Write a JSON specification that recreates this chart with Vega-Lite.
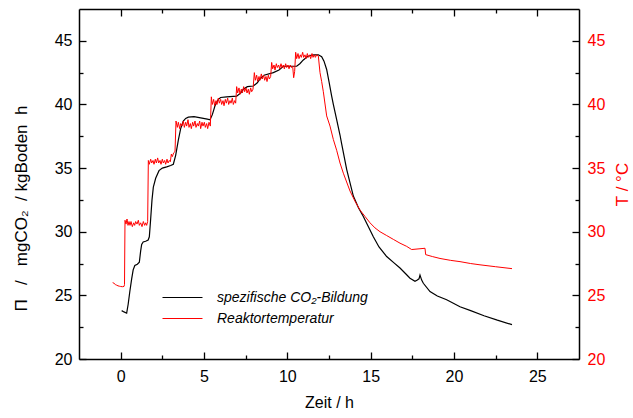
{
  "$schema": "https://vega.github.io/schema/vega-lite/v6.json",
  "autosize": {"type": "none"},
  "padding": {"left": 79, "top": 9, "right": 54, "bottom": 59},
  "width": 500,
  "height": 350,
  "background": "white",
  "config": {
    "view": {"stroke": null},
    "font": "Liberation Sans",
    "axis": {
      "grid": false,
      "domainColor": "black",
      "domainWidth": 1.5,
      "tickColor": "black",
      "tickWidth": 1.3,
      "labelFont": "Liberation Sans",
      "labelFontSize": 16,
      "labelColor": "black",
      "labelFlush": false,
      "labelOverlap": false,
      "titleFont": "Liberation Sans",
      "titleFontSize": 16,
      "titleFontWeight": "normal",
      "titleColor": "black"
    },
    "legend": {
      "labelFont": "Liberation Sans",
      "labelFontSize": 14,
      "labelFontStyle": "italic",
      "labelColor": "black"
    }
  },
  "datasets": {
    "co2": [
      {"t": 0.06, "v": 23.8}, {"t": 0.2, "v": 23.7}, {"t": 0.36, "v": 23.6}, {"t": 0.45, "v": 24.3},
      {"t": 0.55, "v": 25.3}, {"t": 0.66, "v": 26.3}, {"t": 0.75, "v": 27.0}, {"t": 0.85, "v": 27.35},
      {"t": 1.0, "v": 27.45}, {"t": 1.12, "v": 27.6}, {"t": 1.2, "v": 28.5}, {"t": 1.26, "v": 29.0},
      {"t": 1.35, "v": 29.2}, {"t": 1.5, "v": 29.25}, {"t": 1.65, "v": 29.35}, {"t": 1.72, "v": 29.6},
      {"t": 1.8, "v": 31.0}, {"t": 1.88, "v": 32.5}, {"t": 1.96, "v": 33.5}, {"t": 2.1, "v": 34.2},
      {"t": 2.3, "v": 34.8}, {"t": 2.5, "v": 35.0}, {"t": 2.76, "v": 35.1}, {"t": 3.0, "v": 35.2},
      {"t": 3.16, "v": 35.3}, {"t": 3.3, "v": 36.0}, {"t": 3.46, "v": 37.2}, {"t": 3.6, "v": 38.1},
      {"t": 3.76, "v": 38.7}, {"t": 3.9, "v": 38.9}, {"t": 4.06, "v": 39.0}, {"t": 4.4, "v": 39.05},
      {"t": 4.8, "v": 38.95}, {"t": 5.2, "v": 38.85}, {"t": 5.36, "v": 38.8}, {"t": 5.5, "v": 39.2},
      {"t": 5.66, "v": 39.9}, {"t": 5.86, "v": 40.4}, {"t": 6.0, "v": 40.55}, {"t": 6.36, "v": 40.6},
      {"t": 6.96, "v": 40.65}, {"t": 7.2, "v": 40.9}, {"t": 7.36, "v": 41.2}, {"t": 7.6, "v": 41.4},
      {"t": 7.96, "v": 41.45}, {"t": 8.2, "v": 41.7}, {"t": 8.36, "v": 42.0}, {"t": 8.6, "v": 42.3},
      {"t": 9.16, "v": 42.5}, {"t": 9.5, "v": 42.7}, {"t": 9.76, "v": 43.0}, {"t": 10.2, "v": 43.0},
      {"t": 10.56, "v": 43.0}, {"t": 10.75, "v": 43.2}, {"t": 10.96, "v": 43.5}, {"t": 11.2, "v": 43.75},
      {"t": 11.36, "v": 43.85}, {"t": 11.6, "v": 43.9}, {"t": 11.86, "v": 43.9}, {"t": 12.06, "v": 43.75},
      {"t": 12.2, "v": 43.4}, {"t": 12.36, "v": 42.75}, {"t": 12.5, "v": 41.8}, {"t": 12.66, "v": 40.65},
      {"t": 12.76, "v": 40.0}, {"t": 12.96, "v": 38.8}, {"t": 13.16, "v": 37.6}, {"t": 13.26, "v": 36.9},
      {"t": 13.56, "v": 34.9}, {"t": 13.96, "v": 32.8}, {"t": 14.26, "v": 31.9}, {"t": 14.56, "v": 31.2},
      {"t": 15.16, "v": 29.6}, {"t": 15.5, "v": 28.8}, {"t": 15.96, "v": 28.05}, {"t": 16.4, "v": 27.55},
      {"t": 16.76, "v": 27.15}, {"t": 17.1, "v": 26.7}, {"t": 17.36, "v": 26.35}, {"t": 17.66, "v": 26.1},
      {"t": 17.8, "v": 26.2}, {"t": 17.9, "v": 26.3}, {"t": 17.96, "v": 26.6}, {"t": 18.06, "v": 26.2},
      {"t": 18.16, "v": 25.95}, {"t": 18.56, "v": 25.3}, {"t": 19.0, "v": 24.95}, {"t": 19.56, "v": 24.65},
      {"t": 20.36, "v": 24.1}, {"t": 21.0, "v": 23.8}, {"t": 21.8, "v": 23.4}, {"t": 22.6, "v": 23.05},
      {"t": 23.48, "v": 22.7}
    ],
    "temp": [
      {"t": -0.48, "v": 26.0}, {"t": -0.4, "v": 25.95}, {"t": -0.32, "v": 25.85}, {"t": -0.24, "v": 25.8},
      {"t": -0.16, "v": 25.75}, {"t": -0.08, "v": 25.72}, {"t": 0.0, "v": 25.7}, {"t": 0.1, "v": 25.68},
      {"t": 0.2, "v": 25.7}, {"t": 0.23, "v": 25.85},
      {"t": 0.26, "v": 30.9}, {"t": 0.32, "v": 30.6}, {"t": 0.38, "v": 31.0}, {"t": 0.44, "v": 30.5},
      {"t": 0.5, "v": 30.8}, {"t": 0.56, "v": 30.5}, {"t": 0.62, "v": 30.8}, {"t": 0.7, "v": 30.4},
      {"t": 0.78, "v": 30.7}, {"t": 0.84, "v": 30.5}, {"t": 0.9, "v": 30.8}, {"t": 0.98, "v": 30.6},
      {"t": 1.06, "v": 30.9}, {"t": 1.12, "v": 30.5}, {"t": 1.2, "v": 30.7}, {"t": 1.28, "v": 30.4},
      {"t": 1.36, "v": 30.8}, {"t": 1.44, "v": 30.5}, {"t": 1.5, "v": 30.7}, {"t": 1.56, "v": 30.5},
      {"t": 1.62, "v": 30.8},
      {"t": 1.66, "v": 35.6}, {"t": 1.72, "v": 35.3}, {"t": 1.8, "v": 35.7}, {"t": 1.86, "v": 35.4},
      {"t": 1.94, "v": 35.6}, {"t": 2.0, "v": 35.3}, {"t": 2.08, "v": 35.7}, {"t": 2.14, "v": 35.4},
      {"t": 2.22, "v": 35.8}, {"t": 2.28, "v": 35.4}, {"t": 2.36, "v": 35.6}, {"t": 2.42, "v": 35.3},
      {"t": 2.5, "v": 35.7}, {"t": 2.56, "v": 35.4}, {"t": 2.64, "v": 35.6}, {"t": 2.7, "v": 35.3},
      {"t": 2.78, "v": 35.7}, {"t": 2.84, "v": 35.4}, {"t": 2.92, "v": 35.6}, {"t": 2.98, "v": 35.5},
      {"t": 3.04, "v": 36.1}, {"t": 3.1, "v": 35.9}, {"t": 3.18, "v": 36.2}, {"t": 3.26, "v": 36.3},
      {"t": 3.32, "v": 38.7}, {"t": 3.4, "v": 38.2}, {"t": 3.46, "v": 38.6}, {"t": 3.54, "v": 38.1},
      {"t": 3.6, "v": 38.5}, {"t": 3.68, "v": 38.3}, {"t": 3.76, "v": 38.7}, {"t": 3.82, "v": 38.2},
      {"t": 3.9, "v": 38.6}, {"t": 3.96, "v": 38.3}, {"t": 4.04, "v": 38.8}, {"t": 4.1, "v": 38.2},
      {"t": 4.18, "v": 38.5}, {"t": 4.24, "v": 38.1}, {"t": 4.32, "v": 38.6}, {"t": 4.38, "v": 38.3},
      {"t": 4.46, "v": 38.7}, {"t": 4.52, "v": 38.2}, {"t": 4.6, "v": 38.5}, {"t": 4.66, "v": 38.3},
      {"t": 4.74, "v": 38.7}, {"t": 4.8, "v": 38.1}, {"t": 4.88, "v": 38.6}, {"t": 4.94, "v": 38.3},
      {"t": 5.02, "v": 38.6}, {"t": 5.08, "v": 38.2}, {"t": 5.16, "v": 38.5}, {"t": 5.22, "v": 38.1},
      {"t": 5.3, "v": 38.6}, {"t": 5.38, "v": 38.3},
      {"t": 5.44, "v": 40.6}, {"t": 5.5, "v": 40.0}, {"t": 5.58, "v": 40.4}, {"t": 5.64, "v": 39.9},
      {"t": 5.72, "v": 40.3}, {"t": 5.78, "v": 40.0}, {"t": 5.86, "v": 40.5}, {"t": 5.92, "v": 40.1},
      {"t": 6.0, "v": 40.4}, {"t": 6.06, "v": 40.0}, {"t": 6.14, "v": 40.3}, {"t": 6.2, "v": 39.9},
      {"t": 6.28, "v": 40.4}, {"t": 6.34, "v": 40.1}, {"t": 6.42, "v": 40.5}, {"t": 6.48, "v": 40.0},
      {"t": 6.56, "v": 40.3}, {"t": 6.62, "v": 40.1}, {"t": 6.7, "v": 40.5}, {"t": 6.76, "v": 40.0},
      {"t": 6.84, "v": 40.3}, {"t": 6.9, "v": 40.1},
      {"t": 6.96, "v": 41.4}, {"t": 7.02, "v": 40.9}, {"t": 7.1, "v": 41.3}, {"t": 7.16, "v": 40.8},
      {"t": 7.24, "v": 41.2}, {"t": 7.3, "v": 40.9}, {"t": 7.38, "v": 41.4}, {"t": 7.44, "v": 41.0},
      {"t": 7.52, "v": 41.3}, {"t": 7.58, "v": 40.9}, {"t": 7.66, "v": 41.2}, {"t": 7.72, "v": 40.8},
      {"t": 7.8, "v": 41.3}, {"t": 7.86, "v": 41.0}, {"t": 7.94, "v": 41.2},
      {"t": 8.02, "v": 42.5}, {"t": 8.08, "v": 41.9}, {"t": 8.16, "v": 42.3}, {"t": 8.22, "v": 41.8},
      {"t": 8.3, "v": 42.2}, {"t": 8.36, "v": 41.9}, {"t": 8.44, "v": 42.4}, {"t": 8.5, "v": 42.0},
      {"t": 8.58, "v": 42.3}, {"t": 8.64, "v": 41.9}, {"t": 8.72, "v": 42.2}, {"t": 8.78, "v": 41.8},
      {"t": 8.86, "v": 42.3}, {"t": 8.92, "v": 42.0}, {"t": 9.0, "v": 42.2},
      {"t": 9.06, "v": 43.3}, {"t": 9.12, "v": 42.8}, {"t": 9.2, "v": 43.1}, {"t": 9.26, "v": 42.7},
      {"t": 9.34, "v": 43.2}, {"t": 9.4, "v": 42.9}, {"t": 9.48, "v": 43.1}, {"t": 9.54, "v": 42.8},
      {"t": 9.62, "v": 43.2}, {"t": 9.68, "v": 42.9}, {"t": 9.76, "v": 43.1}, {"t": 9.82, "v": 42.8},
      {"t": 9.9, "v": 43.2}, {"t": 9.96, "v": 42.9}, {"t": 10.04, "v": 43.1}, {"t": 10.1, "v": 42.8},
      {"t": 10.18, "v": 43.1}, {"t": 10.24, "v": 42.9}, {"t": 10.32, "v": 43.0}, {"t": 10.38, "v": 42.1},
      {"t": 10.44, "v": 42.6},
      {"t": 10.5, "v": 44.1}, {"t": 10.56, "v": 43.6}, {"t": 10.64, "v": 44.0}, {"t": 10.7, "v": 43.6},
      {"t": 10.78, "v": 43.9}, {"t": 10.84, "v": 43.7}, {"t": 10.92, "v": 44.1}, {"t": 10.98, "v": 43.7},
      {"t": 11.06, "v": 43.9}, {"t": 11.12, "v": 43.6}, {"t": 11.2, "v": 44.0}, {"t": 11.26, "v": 43.7},
      {"t": 11.34, "v": 43.9}, {"t": 11.4, "v": 43.6}, {"t": 11.48, "v": 44.0}, {"t": 11.54, "v": 43.7},
      {"t": 11.62, "v": 43.9}, {"t": 11.68, "v": 43.7}, {"t": 11.76, "v": 43.9}, {"t": 11.86, "v": 43.8},
      {"t": 11.96, "v": 42.5}, {"t": 12.06, "v": 41.8}, {"t": 12.16, "v": 41.0}, {"t": 12.36, "v": 39.1},
      {"t": 12.56, "v": 38.3}, {"t": 12.76, "v": 37.25}, {"t": 12.96, "v": 36.4}, {"t": 13.16, "v": 35.4},
      {"t": 13.36, "v": 34.6}, {"t": 13.76, "v": 33.2}, {"t": 14.06, "v": 32.4}, {"t": 14.36, "v": 31.7},
      {"t": 14.66, "v": 31.2}, {"t": 14.96, "v": 30.7}, {"t": 15.26, "v": 30.3}, {"t": 15.56, "v": 30.0},
      {"t": 15.96, "v": 29.7}, {"t": 16.36, "v": 29.4}, {"t": 16.76, "v": 29.1}, {"t": 17.16, "v": 28.85},
      {"t": 17.46, "v": 28.6}, {"t": 18.26, "v": 28.7}, {"t": 18.3, "v": 28.2}, {"t": 18.7, "v": 28.05},
      {"t": 19.16, "v": 27.9}, {"t": 19.8, "v": 27.75}, {"t": 20.36, "v": 27.65}, {"t": 21.0, "v": 27.5},
      {"t": 21.56, "v": 27.4}, {"t": 22.5, "v": 27.25}, {"t": 23.48, "v": 27.1}
    ]
  },
  "layer": [
    {
      "data": {"name": "co2"},
      "mark": {"type": "line", "strokeWidth": 1.2},
      "encoding": {
        "x": {
          "field": "t", "type": "quantitative",
          "scale": {"domain": [-2.5, 27.5], "nice": false, "zero": false},
          "axis": {
            "orient": "bottom",
            "title": "Zeit / h",
            "values": [0, 2.5, 5, 7.5, 10, 12.5, 15, 17.5, 20, 22.5, 25],
            "labelExpr": "datum.value % 5 === 0 ? datum.label : ''",
            "tickSize": {"condition": {"test": "datum.value % 5 === 0", "value": -7}, "value": -4},
            "labelPadding": 16,
            "titlePadding": 7
          }
        },
        "y": {
          "field": "v", "type": "quantitative",
          "scale": {"domain": [20, 47.5], "nice": false, "zero": false},
          "axis": {
            "orient": "left",
            "title": "Π\u00a0\u00a0\u00a0/\u00a0\u00a0\u00a0mgCO₂\u00a0\u00a0/\u00a0kgBoden\u00a0\u00a0h",
            "titleFontSize": 17,
            "titleY": 199,
            "values": [20, 22.5, 25, 27.5, 30, 32.5, 35, 37.5, 40, 42.5, 45],
            "labelExpr": "datum.value % 5 === 0 ? datum.label : ''",
            "tickSize": {"condition": {"test": "datum.value % 5 === 0", "value": -7}, "value": -4},
            "labelPadding": 14,
            "titlePadding": 24
          }
        },
        "color": {
          "datum": "spezifische CO₂-Bildung",
          "type": "nominal",
          "scale": {"domain": ["spezifische CO₂-Bildung", "Reaktortemperatur"], "range": ["#000000", "#ff0000"]},
          "legend": {
            "title": null,
            "orient": "none",
            "legendX": 96,
            "legendY": 281,
            "symbolType": "M-2.857,0H2.857",
            "symbolSize": 196,
            "symbolStrokeWidth": 1,
            "symbolFillColor": "transparent",
            "labelOffset": 27,
            "rowPadding": 6,
            "padding": 0
          }
        }
      }
    },
    {
      "data": {"name": "temp"},
      "mark": {"type": "line", "strokeWidth": 1},
      "encoding": {
        "x": {
          "field": "t", "type": "quantitative",
          "scale": {"domain": [-2.5, 27.5], "nice": false, "zero": false},
          "axis": {
            "orient": "top",
            "title": null,
            "labels": false,
            "values": [0, 2.5, 5, 7.5, 10, 12.5, 15, 17.5, 20, 22.5, 25],
            "tickSize": {"condition": {"test": "datum.value % 5 === 0", "value": -7}, "value": -4}
          }
        },
        "y": {
          "field": "v", "type": "quantitative",
          "scale": {"domain": [20, 47.5], "nice": false, "zero": false},
          "axis": {
            "orient": "right",
            "title": "T / °C",
            "titleColor": "#ff0000",
            "titleAngle": 270,
            "titleFontSize": 17,
            "labelColor": "#ff0000",
            "values": [20, 22.5, 25, 27.5, 30, 32.5, 35, 37.5, 40, 42.5, 45],
            "labelExpr": "datum.value % 5 === 0 ? datum.label : ''",
            "tickSize": {"condition": {"test": "datum.value % 5 === 0", "value": -7}, "value": -4},
            "labelPadding": 15,
            "titlePadding": 27
          }
        },
        "color": {
          "datum": "Reaktortemperatur",
          "type": "nominal"
        }
      }
    }
  ],
  "resolve": {"scale": {"y": "independent"}, "axis": {"x": "independent"}}
}
